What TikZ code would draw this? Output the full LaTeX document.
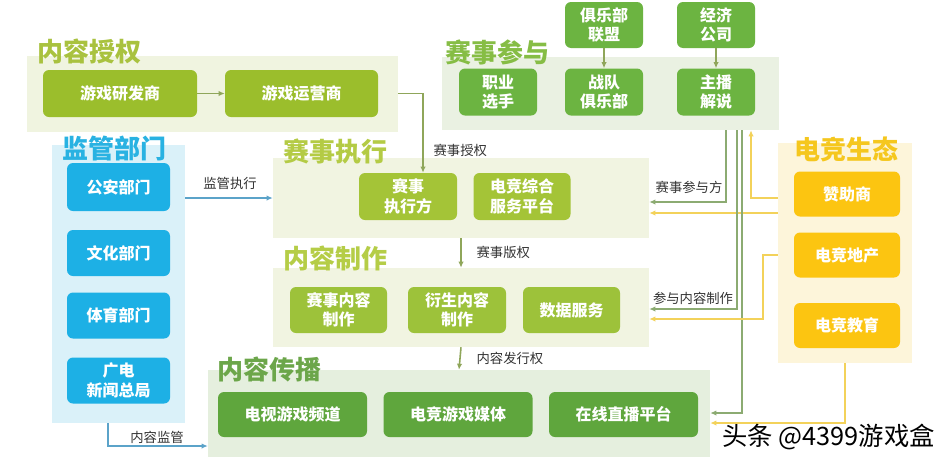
\documentclass[tikz,border=0pt]{standalone}
\usepackage{fontspec}
\setmainfont{Noto Sans CJK SC}
\usetikzlibrary{arrows.meta,calc}
\definecolor{bgA}{HTML}{F0F4E0}\definecolor{tA}{HTML}{A9C23F}\definecolor{boxA}{HTML}{9BBE2C}
\definecolor{bgP}{HTML}{EAF1E2}\definecolor{tP}{HTML}{86BD45}\definecolor{boxP}{HTML}{6CB441}
\definecolor{bgM}{HTML}{DAF1F9}\definecolor{tM}{HTML}{29B2E2}\definecolor{boxM}{HTML}{1DB0E5}
\definecolor{bgE}{HTML}{F1F4E1}\definecolor{tE}{HTML}{B4CB45}\definecolor{boxE}{HTML}{A4C437}
\definecolor{bgC}{HTML}{F1F4E1}\definecolor{tC}{HTML}{B5CD47}\definecolor{boxC}{HTML}{9DC23A}
\definecolor{bgD}{HTML}{E5EFDE}\definecolor{tD}{HTML}{6CA64A}\definecolor{boxD}{HTML}{5FA63D}
\definecolor{bgS}{HTML}{FDF5DA}\definecolor{tS}{HTML}{F5C71E}\definecolor{boxS}{HTML}{FCC511}
\definecolor{lnA}{HTML}{8FA65A}\definecolor{lnG}{HTML}{8CAB72}\definecolor{lnY}{HTML}{F3D25A}
\definecolor{lnM}{HTML}{5BA3C9}\definecolor{lbl}{HTML}{333333}
\begin{document}
\begin{tikzpicture}[x=0.75pt,y=-0.75pt,
  sz/.style 2 args={minimum width=#1*0.75pt, minimum height=#2*0.75pt},
  panel/.style={fill=#1, draw=none, inner sep=0},
  box/.style={fill=#1, draw=none, rounded corners=4.5pt, text=white, align=center, inner sep=0,
    font=\fontsize{12}{14.5}\selectfont\bfseries},
  ttl/.style={text=#1, anchor=west, inner sep=0, font=\fontsize{19.5}{20}\selectfont\bfseries},
  lab/.style={text=lbl, inner sep=1pt, font=\fontsize{10}{12}\selectfont},
  conn/.style={draw=#1, line width=1.2pt, -{Latex[length=4.5pt,width=4pt]}}]
\useasboundingbox[fill=white] (0,0) rectangle (944,461);

% panels
\node[panel=bgA, sz={371}{76}] (A) at (212.5,94) {};
\node[panel=bgP, sz={337}{73}] (P) at (610.5,93.5) {};
\node[panel=bgM, sz={133}{278}] (M) at (118.5,284) {};
\node[panel=bgE, sz={376}{80}] (E) at (461,198) {};
\node[panel=bgC, sz={376}{79}] (C) at (461,307.5) {};
\node[panel=bgD, sz={502}{87}] (D) at (459,413.5) {};
\node[panel=bgS, sz={134}{220}] (S) at (845,253) {};

% titles
\node[ttl=tA] (tA) at (37,51) {内容授权};
\node[ttl=tP] (tP) at (445,52) {赛事参与};
\node[ttl=tM] (tM) at (62,149) {监管部门};
\node[ttl=tE] (tE) at (283,152) {赛事执行};
\node[ttl=tC] (tC) at (283,258) {内容制作};
\node[ttl=tD] (tD) at (217,369) {内容传播};
\node[ttl=tS] (tS) at (794,149) {电竞生态};

% boxes
\node[box=boxA, sz={154}{47}] (A1) at (120,93.5) {游戏研发商};
\node[box=boxA, sz={153}{47}] (A2) at (301.5,93.5) {游戏运营商};
\node[box=boxP, sz={78}{46}] (U1) at (604,25) {俱乐部\\联盟};
\node[box=boxP, sz={78}{46}] (U2) at (716,25) {经济\\公司};
\node[box=boxP, sz={78}{47}] (P1) at (498,92) {职业\\选手};
\node[box=boxP, sz={78}{47}] (P2) at (604,92) {战队\\俱乐部};
\node[box=boxP, sz={78}{47}] (P3) at (716,92) {主播\\解说};
\node[box=boxM, sz={103}{48}] (M1) at (118.5,187) {公安部门};
\node[box=boxM, sz={103}{46}] (M2) at (118.5,253) {文化部门};
\node[box=boxM, sz={103}{46}] (M3) at (118.5,315.5) {体育部门};
\node[box=boxM, sz={103}{46}] (M4) at (118.5,380.5) {广电\\新闻总局};
\node[box=boxE, sz={98}{47}] (E1) at (408,196.5) {赛事\\执行方};
\node[box=boxE, sz={97}{47}] (E2) at (522,196.5) {电竞综合\\服务平台};
\node[box=boxC, sz={97}{46}] (C1) at (338.5,310) {赛事内容\\制作};
\node[box=boxC, sz={98}{46}] (C2) at (457,310) {衍生内容\\制作};
\node[box=boxC, sz={97}{46}] (C3) at (571.5,310) {数据服务};
\node[box=boxD, sz={149}{45}] (D1) at (292.5,414.5) {电视游戏频道};
\node[box=boxD, sz={149}{45}] (D2) at (458,414.5) {电竞游戏媒体};
\node[box=boxD, sz={149}{45}] (D3) at (623.5,414.5) {在线直播平台};
\node[box=boxS, sz={106}{45}] (S1) at (847,194) {赞助商};
\node[box=boxS, sz={106}{45}] (S2) at (847,255) {电竞地产};
\node[box=boxS, sz={106}{45}] (S3) at (847,325.5) {电竞教育};

% coordinates for bends
\coordinate (k1) at (423,93.5);
\coordinate (k2) at (108,446);
\coordinate (g1) at (726,202);
\coordinate (g2) at (737,309);
\coordinate (g3) at (742,413);
\coordinate (y1) at (751,198);
\coordinate (y2) at (778,213);
\coordinate (y3) at (763,255);
\coordinate (y4) at (763,319);
\coordinate (y5) at (845,423);

% connectors
\draw[conn=lnA] (A1) -- (A2);
\draw[conn=lnA] (A.east |- A2.east) -- (k1) -- (k1 |- E1.north);
\node[lab, anchor=west] (l1) at (432,150) {赛事授权};
\draw[conn=lnA] (U1) -- (P2);
\draw[conn=lnA] (U2) -- (P3);

\draw[conn=lnM] (M.east |- E.west) -- (E.west);
\node[lab] (l2) at (230,183) {监管执行};
\draw[conn=lnM] (M.south -| k2) -- (k2) -- (k2 -| D.west);
\node[lab] (l3) at (157,437) {内容监管};

\draw[conn=lnA] (E.south) -- (C.north);
\node[lab, anchor=west] (l4) at (475,252) {赛事版权};
\draw[conn=lnA] (C.south) -- (D.north);
\node[lab, anchor=west] (l5) at (475,358) {内容发行权};

\draw[conn=lnY] (S.west |- y2) -- (y2 -| E.east);
\draw[conn=lnG] (P.south -| g1) -- (g1) -- (g1 -| E.east);
\draw[conn=lnG] (P.south -| g2) -- (g2) -- (g2 -| C.east);
\draw[conn=lnG] (P.south -| g3) -- (g3) -- (g3 -| D.east);
\node[lab] (l6) at (689,187) {赛事参与方};
\node[lab] (l7) at (693,298) {参与内容制作};

\draw[conn=lnY] (S.west |- y1) -- (y1) -- (y1 |- P.south);
\draw[conn=lnY] (S.west |- y3) -- (y3) -- (y4) -- (y4 -| C.east);
\draw[conn=lnY] (S.south -| y5) -- (y5) -- (y5 -| D.east);

\node[anchor=west, inner sep=0, font=\fontsize{19}{20}\selectfont] (wm) at (722,437) {头条 @4399游戏盒};
\end{tikzpicture}
\end{document}
